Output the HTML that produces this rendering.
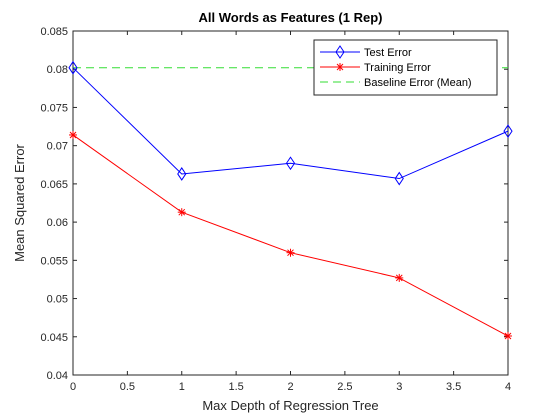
<!DOCTYPE html>
<html><head><meta charset="utf-8"><style>
body{margin:0;background:#fff;}
svg{display:block;font-family:"Liberation Sans",Arial,sans-serif;}
</style></head><body>
<svg id="chart" width="560" height="420"></svg>
<script>
const xCats=[0,1,2,3,4];
const testErr=[0.0802,0.0663,0.0677,0.0657,0.0719];
const trainErr=[0.0714,0.0613,0.0560,0.0527,0.0451];
const baseline=0.0802;
const xTicks=[0,0.5,1,1.5,2,2.5,3,3.5,4];
const yTicks=[0.04,0.045,0.05,0.055,0.06,0.065,0.07,0.075,0.08,0.085];
const yTickLabels=["0.04","0.045","0.05","0.055","0.06","0.065","0.07","0.075","0.08","0.085"];

const L=73,R=508,T=31,B=375;
const X=v=>L+(v-0)/(4-0)*(R-L);
const Y=v=>B-(v-0.04)/(0.085-0.04)*(B-T);
const svg=document.getElementById('chart');
const NS='http://www.w3.org/2000/svg';
function mk(tag,attrs,parent){const e=document.createElementNS(NS,tag);for(const k in attrs)e.setAttribute(k,attrs[k]);(parent||svg).appendChild(e);return e;}

const frame=mk('rect',{x:L,y:T,width:R-L,height:B-T,fill:'#fff',stroke:'#262626','stroke-width':1});



xTicks.forEach(t=>{
  const x=X(t);
  mk('line',{x1:x,x2:x,y1:B,y2:B-4,stroke:'#262626'});
  mk('line',{x1:x,x2:x,y1:T,y2:T+4,stroke:'#262626'});
  const tx=mk('text',{x:x,y:B+15,'font-size':11,'text-anchor':'middle',fill:'#262626'});
  tx.textContent=String(t);
  
  
});
yTicks.forEach((t,i)=>{
  const y=Y(t);
  mk('line',{x1:L,x2:L+4,y1:y,y2:y,stroke:'#262626'});
  mk('line',{x1:R,x2:R-4,y1:y,y2:y,stroke:'#262626'});
  const tx=mk('text',{x:L-5,y:y+4,'font-size':11,'text-anchor':'end',fill:'#262626'});
  tx.textContent=yTickLabels[i];
  
  
});

const bl=mk('line',{x1:L,x2:R,y1:Y(baseline),y2:Y(baseline),stroke:'#33dd33','stroke-dasharray':'8,5'});



const tp=mk('polyline',{points:xCats.map((c,i)=>X(c)+','+Y(testErr[i])).join(' '),fill:'none',stroke:'#0000ff'});


xCats.forEach((c,i)=>{
  const x=X(c),y=Y(testErr[i]);
  const m=mk('polygon',{points:`${x},${y-6} ${x+4},${y} ${x},${y+6} ${x-4},${y}`,fill:'none',stroke:'#0000ff'});
  
  
});

const rp=mk('polyline',{points:xCats.map((c,i)=>X(c)+','+Y(trainErr[i])).join(' '),fill:'none',stroke:'#ff0000'});


function star(x,y,p){const g=mk('g',{stroke:'#ff0000'},p);
  mk('line',{x1:x-4,x2:x+4,y1:y,y2:y},g);mk('line',{x1:x,x2:x,y1:y-4,y2:y+4},g);
  mk('line',{x1:x-3,x2:x+3,y1:y-3,y2:y+3},g);mk('line',{x1:x-3,x2:x+3,y1:y+3,y2:y-3},g);return g;}
xCats.forEach((c,i)=>{
  const g=star(X(c),Y(trainErr[i]));
  
  
});

const title=mk('text',{x:(L+R)/2,y:22,'font-size':13,'font-weight':'bold','text-anchor':'middle',fill:'#000'});
title.textContent='All Words as Features (1 Rep)';


const xl=mk('text',{x:(L+R)/2,y:410,'font-size':13,'text-anchor':'middle',fill:'#262626'});
xl.textContent='Max Depth of Regression Tree';


const yl=mk('text',{x:24,y:(T+B)/2,'font-size':13,'text-anchor':'middle',fill:'#262626',transform:`rotate(-90 24 ${(T+B)/2})`});
yl.textContent='Mean Squared Error';



const lg=mk('g',{});


mk('rect',{x:314,y:40,width:183,height:55,fill:'#fff',stroke:'#262626'},lg);
mk('line',{x1:320,x2:360,y1:52,y2:52,stroke:'#0000ff'},lg);
mk('polygon',{points:'340,46 344,52 340,58 336,52',fill:'none',stroke:'#0000ff'},lg);
mk('line',{x1:320,x2:360,y1:67,y2:67,stroke:'#ff0000'},lg);
star(340,67,lg);
mk('line',{x1:320,x2:360,y1:82,y2:82,stroke:'#33dd33','stroke-dasharray':'8,5'},lg);
[['Test Error',56,'legend-entry-test'],['Training Error',71,'legend-entry-training'],['Baseline Error (Mean)',86,'legend-entry-baseline']].forEach(([t,y,n])=>{
  const e=mk('text',{x:364,y:y,'font-size':11,fill:'#000'},lg);e.textContent=t;
  
  
});
</script>
</body></html>
